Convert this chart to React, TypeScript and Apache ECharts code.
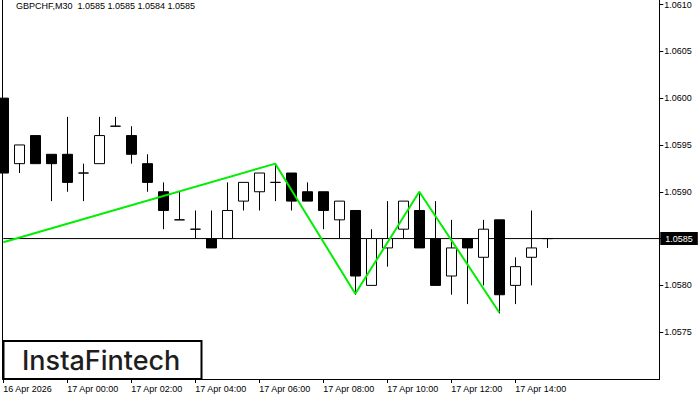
import React, { useEffect, useRef } from 'react';
import * as echarts from 'echarts';

const times = [
  '16 Apr 22:00', '16 Apr 22:30', '16 Apr 23:00', '16 Apr 23:30',
  '17 Apr 00:00', '17 Apr 00:30', '17 Apr 01:00', '17 Apr 01:30',
  '17 Apr 02:00', '17 Apr 02:30', '17 Apr 03:00', '17 Apr 03:30',
  '17 Apr 04:00', '17 Apr 04:30', '17 Apr 05:00', '17 Apr 05:30',
  '17 Apr 06:00', '17 Apr 06:30', '17 Apr 07:00', '17 Apr 07:30',
  '17 Apr 08:00', '17 Apr 08:30', '17 Apr 09:00', '17 Apr 09:30',
  '17 Apr 10:00', '17 Apr 10:30', '17 Apr 11:00', '17 Apr 11:30',
  '17 Apr 12:00', '17 Apr 12:30', '17 Apr 13:00', '17 Apr 13:30',
  '17 Apr 14:00', '17 Apr 14:30', '17 Apr 15:00',
];
// empty future slots to the right of the last bar
const futureSlots = ['', '', '', '', '', '', ''];

const opens = [
  1.0600, 1.0593, 1.0596, 1.0594, 1.0594, 1.0592, 1.0593, 1.0597, 1.0596, 1.0593,
  1.0590, 1.0587, 1.0586, 1.0585, 1.0585, 1.0589, 1.0590, 1.0591, 1.0592, 1.0590,
  1.0590, 1.0587, 1.0588, 1.0580, 1.0584, 1.0586, 1.0588, 1.0585, 1.0581, 1.0585,
  1.0583, 1.0587, 1.0580, 1.0583, 1.0585,
];
const highs = [
  1.0600, 1.0595, 1.0596, 1.0594, 1.0598, 1.0593, 1.0598, 1.0598, 1.0597, 1.0594,
  1.0591, 1.0590, 1.0588, 1.0588, 1.0591, 1.0591, 1.0592, 1.0593, 1.0592, 1.0591,
  1.0590, 1.0589, 1.0588, 1.0586, 1.0589, 1.0589, 1.0590, 1.0589, 1.0587, 1.0585,
  1.0587, 1.0587, 1.0583, 1.0588, 1.0585,
];
const lows = [
  1.0592, 1.0592, 1.0593, 1.0589, 1.0590, 1.0589, 1.0593, 1.0597, 1.0593, 1.0590,
  1.0586, 1.0587, 1.0585, 1.0584, 1.0585, 1.0588, 1.0588, 1.0589, 1.0588, 1.0589,
  1.0586, 1.0585, 1.0579, 1.0580, 1.0582, 1.0585, 1.0584, 1.0580, 1.0579, 1.0578,
  1.0580, 1.0577, 1.0578, 1.0580, 1.0584,
];
const closes = [
  1.0592, 1.0595, 1.0593, 1.0593, 1.0591, 1.0592, 1.0596, 1.0597, 1.0594, 1.0591,
  1.0588, 1.0587, 1.0586, 1.0584, 1.0588, 1.0591, 1.0592, 1.0591, 1.0589, 1.0589,
  1.0588, 1.0589, 1.0581, 1.0585, 1.0585, 1.0589, 1.0584, 1.0580, 1.0584, 1.0584,
  1.0586, 1.0579, 1.0582, 1.0584, 1.0585,
];

const tickLabels = [
  '16 Apr 2026', '17 Apr 00:00', '17 Apr 02:00', '17 Apr 04:00', '17 Apr 06:00',
  '17 Apr 08:00', '17 Apr 10:00', '17 Apr 12:00', '17 Apr 14:00',
];

const patternIdx = [0, 17, 22, 26, 31];
const patternVals = [1.05846, 1.0593, 1.05791, 1.0590, 1.05771];

const lastPrice = 1.0585;
const titleText = 'GBPCHF,M30  1.0585 1.0585 1.0584 1.0585';
const logoText = 'InstaFintech';

const FONT = '"Liberation Sans", Arial, sans-serif';

export default function App() {
  const ref = useRef<HTMLDivElement>(null);
  useEffect(() => {
    const chart = echarts.init(ref.current!, null, { renderer: 'svg' });
    const categories = [...times, ...futureSlots];
    const candleData = opens.map((o, i) => [o, closes[i], lows[i], highs[i]]);
    const lineData = patternIdx.map((ix, k) => [ix, patternVals[k]]);
    const priceLineData = [[0, lastPrice], [categories.length - 1, lastPrice]];
    const tickStep = 4;
    const lastTick = (tickLabels.length - 1) * tickStep;
    const showTick = (i: number) => i % tickStep === 0 && i <= lastTick;

    chart.setOption({
      animation: false,
      backgroundColor: '#fff',
      title: {
        text: titleText,
        left: 16,
        top: 1,
        padding: 0,
        textStyle: { fontSize: 9, fontWeight: 'normal', color: '#000', fontFamily: FONT },
      },
      grid: { left: 3.3, right: 40.7, top: 4, bottom: 21, containLabel: false },
      xAxis: {
        type: 'category',
        data: categories,
        boundaryGap: false,
        axisLine: { show: true, lineStyle: { color: '#000', width: 1 } },
        axisTick: { show: true, length: 4, interval: (i: number) => showTick(i), lineStyle: { color: '#000' } },
        axisLabel: {
          interval: (i: number) => showTick(i),
          formatter: (_v: string, i: number) => (showTick(i) ? tickLabels[i / tickStep] : ''),
          align: 'left',
          margin: 5,
          fontSize: 9,
          color: '#000',
          fontFamily: FONT,
          hideOverlap: false,
        },
        splitLine: { show: false },
      },
      yAxis: {
        type: 'value',
        position: 'right',
        min: 1.0570,
        max: 1.0610,
        interval: 0.0005,
        axisLine: { show: true, lineStyle: { color: '#000', width: 1 } },
        axisTick: { show: true, length: 4, lineStyle: { color: '#000' } },
        axisLabel: {
          formatter: (v: number) => v.toFixed(4),
          showMinLabel: false,
          margin: 5,
          fontSize: 9,
          color: '#000',
          fontFamily: FONT,
        },
        splitLine: { show: false },
      },
      series: [
        {
          type: 'line',
          data: priceLineData,
          symbol: 'none',
          silent: true,
          lineStyle: { color: '#000', width: 1 },
          z: 1,
          endLabel: {
            show: true,
            formatter: lastPrice.toFixed(4),
            distance: 1,
            backgroundColor: '#000',
            color: '#fff',
            padding: [1, 5, 1, 5],
            fontSize: 9,
            lineHeight: 11,
            fontFamily: FONT,
          },
        },
        {
          type: 'candlestick',
          data: candleData,
          barWidth: 10,
          clip: true,
          z: 2,
          itemStyle: {
            color: '#fff',
            color0: '#000',
            borderColor: '#000',
            borderColor0: '#000',
            borderColorDoji: '#000',
            borderWidth: 1,
          },
        },
        {
          type: 'line',
          data: lineData,
          symbol: 'none',
          lineStyle: { color: '#00ee00', width: 2 },
          z: 5,
        },
      ],
      graphic: [
        {
          type: 'rect',
          shape: { x: 2.5, y: -1, width: 657, height: 380.5 },
          style: { fill: 'none', stroke: '#000', lineWidth: 1 },
          silent: true,
          z: 10,
        },
        {
          type: 'rect',
          shape: { x: 3.5, y: 341, width: 198, height: 38 },
          style: { fill: '#fff', stroke: '#000', lineWidth: 2 },
          silent: true,
          z: 20,
        },
        {
          type: 'text',
          x: 22,
          y: 360,
          style: {
            text: logoText,
            fill: '#1e1e1e',
            fontSize: 27,
            fontWeight: 500,
            fontFamily: 'Inter, "Open Sans", sans-serif',
            verticalAlign: 'middle',
            align: 'left',
          },
          silent: true,
          z: 21,
        },
      ],
    });
    return () => chart.dispose();
  }, []);
  return <div ref={ref} style={{ position: 'absolute', left: 0, top: 0, width: 700, height: 400 }} />;
}
